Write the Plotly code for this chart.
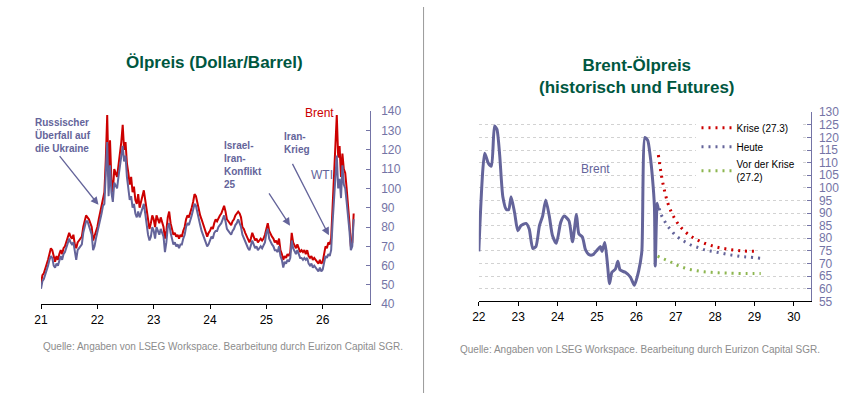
import numpy as np
import plotly.graph_objects as go

# ── Left chart: Brent and WTI, step of 1/40 year starting at 21.0 ───────────
brent = [
    51, 55, 56, 58, 60, 63, 66, 69, 68, 64,
    62, 65, 63, 66, 68, 66, 69, 70, 72, 74,
    77, 75, 74, 76, 71, 69, 72, 73, 74, 75,
    80, 84, 86, 85, 84, 82, 80, 73, 75, 78,
    80, 84, 88, 90, 95, 98, 115, 138, 106, 125,
    104, 98, 110, 108, 106, 112, 117, 124, 133, 120,
    124, 113, 108, 102, 106, 98, 101, 94, 92, 97,
    90, 93, 96, 99, 94, 88, 82, 79, 82, 86,
    84, 80, 86, 84, 82, 85, 83, 80, 74, 78,
    85, 88, 82, 78, 76, 77, 75, 76, 74, 76,
    75, 78, 80, 84, 86, 85, 87, 90, 93, 97,
    96, 92, 90, 86, 84, 82, 80, 77, 75, 77,
    78, 80, 79, 82, 84, 83, 85, 86, 87, 89,
    91, 88, 84, 83, 82, 81, 83, 84, 86, 87,
    88, 87, 85, 80, 79, 77, 75, 73, 72, 74,
    77, 75, 73, 74, 72, 73, 74, 73, 74, 76,
    80, 82, 78, 76, 75, 74, 72, 73, 71, 74,
    68, 66, 63, 65, 64, 66, 65, 67, 77, 72,
    70, 69, 71, 69, 67, 68, 67, 68, 66, 68,
    65, 64, 65, 63, 64, 63, 62, 61, 63, 61,
    62, 67, 70, 69, 72, 71, 74, 90, 104, 120,
    138, 116, 122, 106, 118, 110, 108, 100, 92, 82,
    70, 72, 87,
]
wti = [
    48, 52, 53, 55, 57, 60, 63, 65, 64, 60,
    59, 61, 60, 63, 65, 63, 66, 67, 69, 71,
    74, 72, 71, 72, 66, 63, 68, 69, 70, 71,
    77, 81, 83, 83, 81, 79, 76, 68, 70, 74,
    77, 80, 84, 87, 91, 92, 108, 124, 96, 112,
    98, 93, 103, 101, 100, 106, 111, 118, 122, 114,
    117, 106, 100, 94, 96, 90, 92, 87, 85, 88,
    85, 87, 89, 92, 87, 81, 76, 73, 75, 80,
    78, 74, 80, 78, 76, 79, 77, 75, 67, 72,
    80, 82, 77, 73, 71, 72, 70, 71, 69, 71,
    71, 74, 76, 80, 82, 81, 83, 86, 89, 92,
    91, 87, 85, 81, 78, 76, 74, 72, 70, 71,
    73, 75, 74, 77, 78, 78, 80, 81, 82, 84,
    86, 83, 79, 78, 77, 76, 78, 79, 81, 82,
    84, 82, 80, 76, 74, 72, 70, 69, 68, 70,
    73, 71, 69, 70, 68, 69, 70, 69, 71, 72,
    77, 79, 74, 72, 71, 70, 68, 68, 67, 70,
    65, 63, 59, 62, 61, 63, 62, 64, 73, 69,
    67, 66, 68, 66, 64, 64, 63, 64, 63, 64,
    61, 60, 61, 59, 60, 59, 58, 57, 59, 57,
    58, 62, 65, 64, 66, 65, 68, 82, 94, 102,
    117, 100, 105, 95, 112, 102, 100, 93, 86, 78,
    68, 70, 84,
]
years_left = 21 + np.arange(len(brent)) / 40

# ── Right chart: Brent history and futures curves ───────────────────────────
hist_t = [22.0, 22.15, 22.24, 22.32, 22.40, 22.46, 22.53, 22.61, 22.70, 22.76,
          22.82, 22.91, 22.99, 23.07, 23.20, 23.28, 23.37, 23.45, 23.54, 23.62,
          23.70, 23.79, 23.87, 23.97, 24.08, 24.17, 24.29, 24.38, 24.48, 24.54,
          24.63, 24.71, 24.80, 24.90, 25.01, 25.09, 25.13, 25.20, 25.26, 25.32,
          25.38, 25.47, 25.53, 25.59, 25.72, 25.85, 25.95, 26.06, 26.14, 26.22,
          26.29, 26.35, 26.41, 26.46, 26.48, 26.53, 26.56]
hist_v = [74.8, 113.7, 109.8, 108.6, 124.5, 123.2, 113.0, 96.5, 91.4, 91.4,
          96.5, 90.0, 83.0, 85.0, 85.9, 83.7, 76.0, 76.7, 85.0, 88.8,
          95.2, 88.8, 81.1, 78.0, 86.3, 88.8, 86.9, 78.6, 89.4, 81.8,
          80.5, 75.4, 73.5, 73.5, 75.4, 76.7, 74.8, 78.3, 70.9, 62.0,
          66.5, 67.8, 70.9, 67.4, 66.5, 64.6, 61.4, 67.1, 74.8, 120.0,
          118.8, 113.0, 104.0, 92.6, 69.0, 93.9, 91.4]

krise_t = [26.56, 26.61, 26.66, 26.73, 26.81, 26.94, 27.11, 27.36, 27.65,
           27.99, 28.32, 28.70, 29.08]
krise_v = [113.0, 107.7, 103.0, 98.0, 93.5, 88.8, 84.7, 81.1, 78.6,
           76.7, 75.7, 75.0, 74.8]

heute_t = [26.58, 26.63, 26.70, 26.79, 26.89, 27.00, 27.13, 27.27, 27.42,
           27.57, 27.72, 27.86, 28.03, 28.20, 28.36, 28.53, 28.70, 28.87, 29.16]
heute_v = [91.9, 89.4, 87.3, 85.0, 83.1, 81.1, 79.6, 78.3, 77.1,
           76.3, 75.5, 75.0, 74.5, 74.0, 73.5, 73.1, 72.7, 72.5, 72.1]

vor_t = [26.54, 26.70, 26.87, 27.04, 27.21, 27.37, 27.54, 27.72, 27.90,
         28.09, 28.27, 28.46, 28.81, 29.16]
vor_v = [72.9, 71.8, 70.6, 69.3, 68.3, 67.6, 67.1, 66.7, 66.5,
         66.3, 66.2, 66.1, 66.0, 66.0]

left_ticks = [21, 22, 23, 24, 25, 26]
right_ticks = [22, 23, 24, 25, 26, 27, 28, 29, 30]

RED = "#CC0000"
PURPLE = "#64649A"
AXIS = "#7474A6"
GREEN = "#8DB650"
TITLE = "#00573F"
FONT = "Liberation Sans, Arial"

fig = go.Figure()

fig.add_trace(go.Scatter(x=years_left, y=brent, mode="lines", name="Brent",
                         line=dict(color=RED, width=2), showlegend=False,
                         xaxis="x", yaxis="y"))
fig.add_trace(go.Scatter(x=years_left, y=wti, mode="lines", name="WTI",
                         line=dict(color=PURPLE, width=2), showlegend=False,
                         xaxis="x", yaxis="y"))

fig.add_trace(go.Scatter(x=hist_t, y=hist_v, mode="lines", name="Brent",
                         line=dict(color=PURPLE, width=3, shape="spline", smoothing=0.6),
                         showlegend=False, xaxis="x2", yaxis="y2"))
fig.add_trace(go.Scatter(x=krise_t, y=krise_v, mode="lines", name="Krise (27.3)",
                         line=dict(color=RED, width=3, dash="2px,5px", shape="spline"),
                         xaxis="x2", yaxis="y2"))
fig.add_trace(go.Scatter(x=heute_t, y=heute_v, mode="lines", name="Heute",
                         line=dict(color=PURPLE, width=3, dash="2px,5px", shape="spline"),
                         xaxis="x2", yaxis="y2"))
fig.add_trace(go.Scatter(x=vor_t, y=vor_v, mode="lines", name="Vor der Krise<br>(27.2)",
                         line=dict(color=GREEN, width=3, dash="2px,5px", shape="spline"),
                         xaxis="x2", yaxis="y2"))

xaxis_common = dict(showline=True, linecolor="black", linewidth=1.2,
                    ticks="outside", ticklen=4, tickcolor="black",
                    tickfont=dict(family=FONT, size=12, color="black"),
                    showgrid=False, zeroline=False)
yaxis_common = dict(showline=True, linecolor=AXIS, linewidth=1.2, side="right",
                    ticks="inside", ticklen=4, tickcolor=AXIS,
                    tickfont=dict(family=FONT, size=12, color=AXIS),
                    zeroline=False)

fig.update_layout(
    width=853, height=400,
    margin=dict(l=0, r=0, t=0, b=0),
    paper_bgcolor="white", plot_bgcolor="white",
    font=dict(family=FONT),
    xaxis=dict(domain=[0.0402, 0.4287], range=[21, 26.834],
               tickvals=left_ticks, **xaxis_common),
    yaxis=dict(domain=[0.23, 0.73], range=[40, 140], dtick=10, anchor="x",
               showgrid=False, ticklabelstandoff=8, **yaxis_common),
    xaxis2=dict(domain=[0.5577, 0.9508], range=[22, 30.446], anchor="y2",
                tickvals=right_ticks, **xaxis_common),
    yaxis2=dict(domain=[0.2375, 0.7275], range=[55, 130], dtick=5, anchor="x2",
                showgrid=True, gridcolor="#D2D2D2", griddash="dot", gridwidth=1,
                ticklabelstandoff=4, **yaxis_common),
    legend=dict(x=0.815, y=0.725, xanchor="left", yanchor="top",
                bgcolor="white", font=dict(family=FONT, size=10, color="black"),
                itemwidth=30),
)

# titles and source lines
fig.add_annotation(text="<b>Ölpreis (Dollar/Barrel)</b>", x=209 / 853, y=1 - 57 / 400,
                   xref="paper", yref="paper", xanchor="center", yanchor="middle",
                   showarrow=False, font=dict(family=FONT, size=17, color=TITLE))
fig.add_annotation(text="<b>Brent-Ölpreis<br>(historisch und Futures)</b>",
                   x=635 / 853, y=1 - 72 / 400, xref="paper", yref="paper",
                   xanchor="center", yanchor="middle", showarrow=False,
                   font=dict(family=FONT, size=17, color=TITLE))
source = "Quelle: Angaben von LSEG Workspace. Bearbeitung durch Eurizon Capital SGR."
for sx, sy in [(34, 352), (455, 355)]:
    fig.add_annotation(text=source, x=sx / 853, y=1 - sy / 400, xref="paper", yref="paper",
                       xanchor="left", yanchor="middle", showarrow=False,
                       font=dict(family=FONT, size=10, color="#8C8C8C"))

# event labels on the left chart
events = [
    ("<b>Russischer<br>Überfall auf<br>die Ukraine</b>", 26, 112),
    ("<b>Israel-<br>Iran-<br>Konflikt<br>25</b>", 217, 136),
    ("<b>Iran-<br>Krieg</b>", 277, 126),
]
for txt, px, py in events:
    fig.add_annotation(text=txt, x=px / 853, y=1 - py / 400, xref="paper", yref="paper",
                       xanchor="left", yanchor="top", align="left", showarrow=False,
                       font=dict(family=FONT, size=10, color=PURPLE))

arrows = [((21.31, 117.5), (22.02, 91.5)),
          ((25.03, 98.2), (25.42, 80.7)),
          ((25.45, 113.5), (26.11, 75.7))]
for (tx, ty), (hx, hy) in arrows:
    fig.add_annotation(text="", x=hx, y=hy, ax=tx, ay=ty, xref="x", yref="y",
                       axref="x", ayref="y", showarrow=True, arrowhead=2,
                       arrowsize=1.2, arrowwidth=1.3, arrowcolor=PURPLE)

labels = [("Brent", 298, 110, RED, "left"),
          ("WTI", 304, 174, PURPLE, "left"),
          ("Brent", 593, 168, PURPLE, "center")]
for txt, px, py, col, anc in labels:
    fig.add_annotation(text=txt, x=px / 853, y=1 - py / 400, xref="paper", yref="paper",
                       xanchor=anc, yanchor="middle", showarrow=False,
                       font=dict(family=FONT, size=12, color=col))

# divider between the two panels
fig.add_shape(type="line", x0=420 / 853, x1=420 / 853, y0=0, y1=1, xref="paper",
              yref="paper", line=dict(color="#9A9A9A", width=1))

fig.write_html("out.html", config={"displayModeBar": False},
               post_script="document.body.style.margin='0';document.body.style.padding='0';")
